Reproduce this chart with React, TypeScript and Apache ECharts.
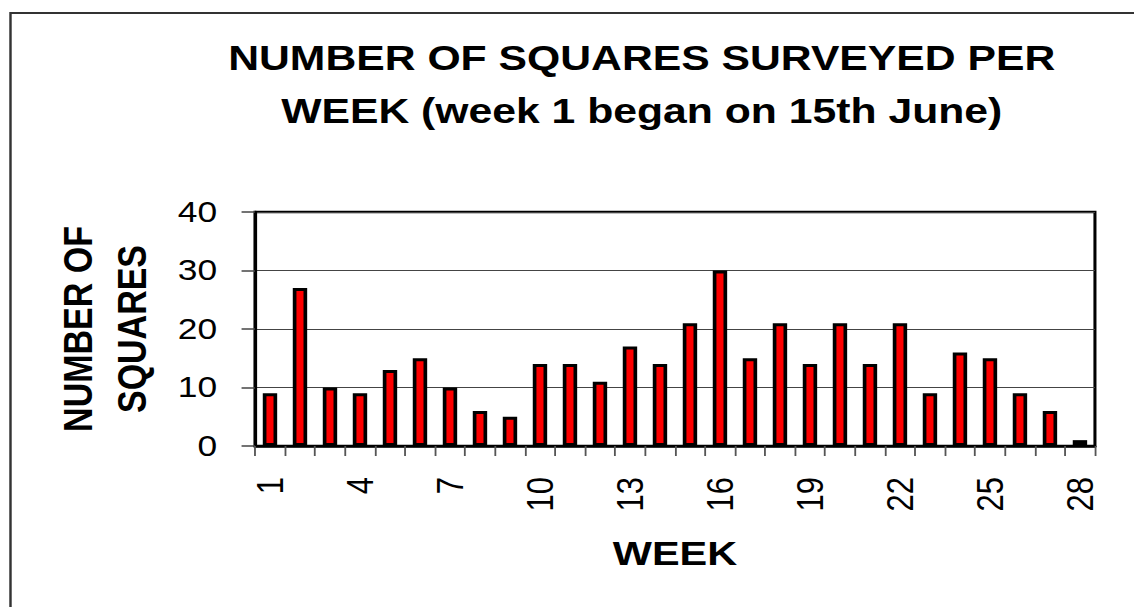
import React, { useEffect, useRef } from "react";
import * as echarts from "echarts";

// ---- data ----
const weeks = [
  "1", "2", "3", "4", "5", "6", "7", "8", "9", "10",
  "11", "12", "13", "14", "15", "16", "17", "18", "19", "20",
  "21", "22", "23", "24", "25", "26", "27", "28",
];
const squares = [
  9, 27, 10, 9, 13, 15, 10, 6, 5, 14,
  14, 11, 17, 14, 21, 30, 15, 21, 14, 21,
  14, 21, 9, 16, 15, 9, 6, 1,
];
const yMin = 0;
const yMax = 40;
const yStep = 10;
const titleLines = ["NUMBER OF SQUARES SURVEYED PER", "WEEK (week 1 began on 15th June)"];
const yAxisTitle = ["NUMBER OF", "SQUARES"];
const xAxisTitle = "WEEK";

// ---- layout ----
const W = 1134;
const H = 607;
const SX = 1.22; // the reference is stretched horizontally
const W0 = W / SX;
const FONT = '"Liberation Sans", Arial, Helvetica, sans-serif';

export default function App() {
  const ref = useRef<HTMLDivElement>(null);

  useEffect(() => {
    if (!ref.current) return;
    const chart = echarts.init(ref.current, null, { renderer: "svg", width: W0, height: H });
    chart.setOption({
      animation: false,
      backgroundColor: "#ffffff",
      textStyle: { fontFamily: FONT },
      title: {
        text: titleLines.join("\n"),
        left: 526,
        top: 31,
        padding: 0,
        textAlign: "center",
        textStyle: {
          fontFamily: FONT,
          fontSize: 35,
          fontWeight: "bold",
          color: "#000",
          lineHeight: 53,
        },
      },
      graphic: [
        {
          type: "rect",
          z: -1,
          shape: { x: 8.6, y: 13, width: 3000, height: 3000 },
          style: { fill: "none", stroke: "#333", lineWidth: 2 },
        },
      ],
      grid: {
        left: 209,
        top: 212,
        width: 688.5,
        height: 234,
        show: true,
        borderColor: "#000",
        borderWidth: 2.5,
        backgroundColor: "transparent",
      },
      xAxis: {
        type: "category",
        data: weeks,
        boundaryGap: true,
        name: xAxisTitle,
        nameLocation: "middle",
        nameGap: 90,
        nameTextStyle: {
          fontFamily: FONT,
          fontSize: 34,
          fontWeight: "bold",
          color: "#000",
          lineHeight: 34,
        },
        axisLine: { show: true, lineStyle: { color: "#000", width: 2.5 } },
        axisTick: {
          show: true,
          interval: 0,
          alignWithLabel: false,
          length: 10,
          lineStyle: { color: "#555", width: 1.5 },
        },
        axisLabel: {
          interval: 2,
          rotate: 90,
          margin: 31,
          fontFamily: FONT,
          fontSize: 31,
          color: "#000",
        },
        splitLine: { show: false },
      },
      yAxis: {
        type: "value",
        min: yMin,
        max: yMax,
        interval: yStep,
        name: yAxisTitle.join("\n"),
        nameLocation: "middle",
        nameRotate: 90,
        nameGap: 79,
        nameTextStyle: {
          fontFamily: FONT,
          fontSize: 34,
          fontWeight: "bold",
          color: "#000",
          lineHeight: 44,
        },
        axisLine: { show: true, lineStyle: { color: "#000", width: 2.5 } },
        axisTick: { show: true, length: 11, lineStyle: { color: "#444", width: 1.5 } },
        axisLabel: {
          margin: 31,
          fontFamily: FONT,
          fontSize: 29,
          color: "#000",
        },
        splitLine: { show: true, lineStyle: { color: "#444", width: 1.2 } },
      },
      series: [
        {
          type: "bar",
          data: squares,
          barWidth: "48%",
          itemStyle: {
            color: "#ff0000",
            borderColor: "#000",
            borderWidth: 3,
          },
        },
      ],
    });
    return () => chart.dispose();
  }, []);

  return (
    <div
      style={{
        position: "fixed",
        left: 0,
        top: 0,
        width: W,
        height: H,
        overflow: "hidden",
        background: "#fff",
      }}
    >
      <div
        ref={ref}
        style={{
          width: W0,
          height: H,
          transform: `scaleX(${SX})`,
          transformOrigin: "0 0",
        }}
      />
    </div>
  );
}
